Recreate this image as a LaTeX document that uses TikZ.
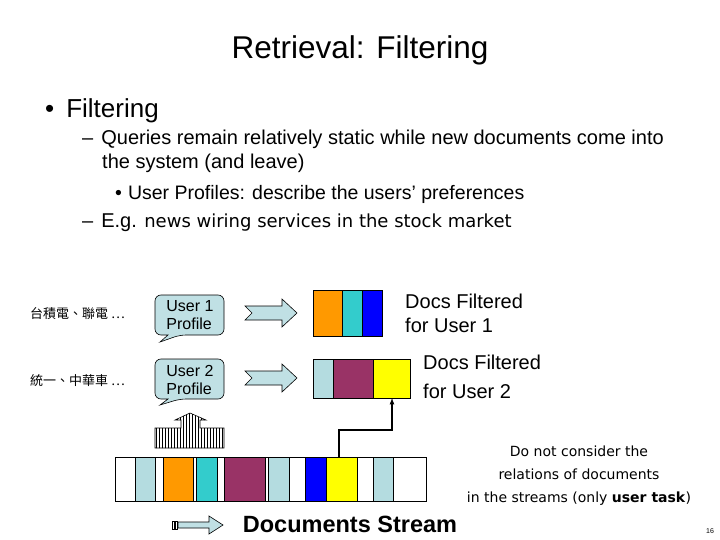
\documentclass[tikz,border=0pt]{standalone}
\usepackage{fontspec}
\setmainfont{Liberation Sans}
\newfontfamily\cjk{Noto Sans CJK TC}
\newfontfamily\djfont{DejaVu Sans}
\usetikzlibrary{patterns}
\definecolor{lb}{HTML}{B4DCE0}
\definecolor{org}{HTML}{FF9900}
\definecolor{tea}{HTML}{33CCCC}
\definecolor{blu}{HTML}{0000FF}
\definecolor{mar}{HTML}{993366}
\definecolor{yel}{HTML}{FFFF00}
\definecolor{cal}{HTML}{C0E0E4}
\tikzset{doc/.style={draw=black,line width=0.8pt},
 txt/.style={inner sep=0pt,anchor=west,align=left},
 barrow/.style={draw=black,fill=cal,line width=0.6pt}}
\begin{document}
\begin{tikzpicture}[x=1pt,y=-1pt]
\useasboundingbox (0,0) rectangle (720,540);
\node (title) at (360,50) {\fontsize{31.5}{34}\selectfont Retrieval: Filtering};
\node[txt] (b1) at (45,111) {\fontsize{26}{28}\selectfont •\hspace{12pt}Filtering};
\node[txt,anchor=north west,font=\fontsize{20}{24}\selectfont] (b2) at (82,130) {–\hspace{8pt}Queries remain relatively static while new documents come into\\\hspace{20pt}the system (and leave)};
\node[txt,font=\fontsize{19.5}{22}\selectfont] (b3) at (115,194) {•\hspace{6pt}User Profiles: describe the users’ preferences};
\node[txt,font=\fontsize{20}{22}\selectfont] (b4) at (82,223) {–\hspace{8pt}E.g. {\djfont\fontsize{18}{22}\selectfont news wiring services in the stock market}};
\node[txt] (c1) at (30,314) {\cjk\fontsize{13}{14}\selectfont 台積電、聯電 …};
\node[txt] (c2) at (30,381) {\cjk\fontsize{13}{14}\selectfont 統一、中華車 …};
% callouts
\draw[barrow,rounded corners=6pt] (155,295) -- (224,295) -- (224,335) -- (180,335) [sharp corners]-- (160,342) -- (168,335) [rounded corners=6pt] -- (155,335) -- cycle;
\node[font=\fontsize{16}{18}\selectfont,align=left] (u1) at (190,315) {User 1\\Profile};
\draw[barrow,rounded corners=6pt] (155,359) -- (224,359) -- (224,399) -- (180,399) [sharp corners]-- (160,405) -- (168,399) [rounded corners=6pt] -- (155,399) -- cycle;
\node[font=\fontsize{16}{18}\selectfont,align=left] (u2) at (190,380) {User 2\\Profile};
% block arrows
\foreach \y/\n in {313/a1,378/a2}{
\draw[barrow] (245,\y-7) -- (282,\y-7) -- (282,\y-14) -- (297,\y) -- (282,\y+14) -- (282,\y+7) -- (245,\y+7) -- (252,\y) -- cycle;}
% filtered docs
\foreach \a/\b/\c in {313/342/org,342/362/tea,362/382/blu}{\draw[doc,fill=\c] (\a,290) rectangle (\b,336);}
\foreach \a/\b/\c in {313/333/lb,333/373/mar,373/410/yel}{\draw[doc,fill=\c] (\a,359) rectangle (\b,398);}
\node[txt,font=\fontsize{20}{24}\selectfont] (f1) at (405,313) {Docs Filtered\\for User 1};
\node[txt,font=\fontsize{20}{29}\selectfont] (f2) at (423,377) {Docs Filtered\\for User 2};
% stream
\foreach \a/\b/\c in {115/135/white,135/155/lb,155/163/white,163/193/org,193/196/white,196/217/tea,217/224/white,224/265/mar,265/268/white,268/289/lb,289/305/white,305/326/blu,326/357/yel,357/373/white,373/393/lb,393/426/white}{\draw[doc,fill=\c] (\a,457) rectangle (\b,501);}
\coordinate (s) at (339,457);
\coordinate (t) at (392,398);
\draw[line width=1.2pt,-latex] (s) |- (392,430) -- (t);
% striped up arrow
\draw[pattern=vertical lines,line width=0.6pt] (155,448) -- (224,448) -- (224,428) -- (200,428) -- (200,420) -- (206,420) -- (190,413) -- (175,420) -- (181,420) -- (181,428) -- (155,428) -- cycle;
% bottom arrow
\draw[barrow] (178,522) -- (209,522) -- (209,516) -- (223,525) -- (209,534) -- (209,528) -- (178,528) -- cycle;
\draw[line width=0.6pt] (172,521) rectangle (174,529) (175,521) rectangle (177,529);
\node[font=\fontsize{23.5}{26}\selectfont\bfseries] (ds) at (350,524) {Documents Stream};
\node[align=center,font=\djfont\fontsize{14}{23}\selectfont] (note) at (579,476) {Do not consider the\\relations of documents\\in the streams (only \textbf{user task})};
\node[font=\fontsize{7}{8}\selectfont] (pg) at (710,531) {16};
\end{tikzpicture}
\end{document}
